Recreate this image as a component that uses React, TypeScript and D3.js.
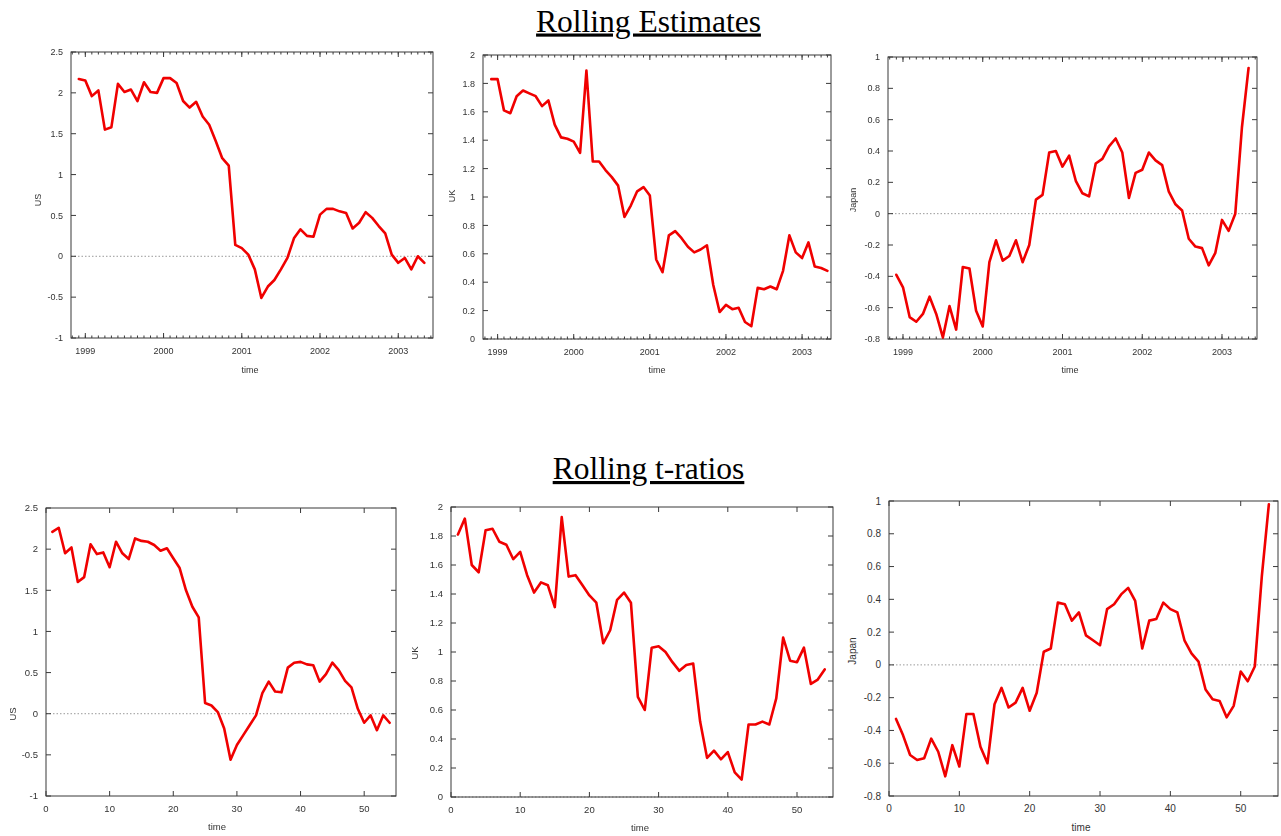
import React from 'react';
import * as d3 from 'd3';

// Rolling coefficient estimates, monthly windows ending Dec 1998 .. May 2003
const usEstimates = [
  2.17, 2.15, 1.96, 2.03, 1.55, 1.58, 2.11, 2.01, 2.04, 1.9,
  2.13, 2.01, 2.0, 2.18, 2.18, 2.12, 1.9, 1.82, 1.89, 1.71,
  1.61, 1.41, 1.2, 1.11, 0.14, 0.1, 0.02, -0.16, -0.51, -0.37,
  -0.29, -0.16, -0.02, 0.22, 0.33, 0.25, 0.24, 0.51, 0.58, 0.58,
  0.55, 0.53, 0.34, 0.41, 0.54, 0.47, 0.37, 0.28, 0.02, -0.08,
  -0.02, -0.16, 0.0, -0.08,
];
const ukEstimates = [
  1.83, 1.83, 1.61, 1.59, 1.71, 1.75, 1.73, 1.71, 1.64, 1.68,
  1.51, 1.42, 1.41, 1.39, 1.31, 1.89, 1.25, 1.25, 1.19, 1.14,
  1.08, 0.86, 0.94, 1.04, 1.07, 1.01, 0.56, 0.47, 0.73, 0.76,
  0.71, 0.65, 0.61, 0.63, 0.66, 0.38, 0.19, 0.24, 0.21, 0.22,
  0.12, 0.09, 0.36, 0.35, 0.37, 0.35, 0.48, 0.73, 0.61, 0.57,
  0.68, 0.51, 0.5, 0.48,
];
const japanEstimates = [
  -0.39, -0.47, -0.66, -0.69, -0.64, -0.53, -0.64, -0.79, -0.59, -0.74,
  -0.34, -0.35, -0.62, -0.72, -0.31, -0.17, -0.3, -0.27, -0.17, -0.31,
  -0.2, 0.09, 0.12, 0.39, 0.4, 0.3, 0.37, 0.21, 0.13, 0.11,
  0.32, 0.35, 0.43, 0.48, 0.39, 0.1, 0.26, 0.28, 0.39, 0.34,
  0.31, 0.14, 0.06, 0.02, -0.16, -0.21, -0.22, -0.33, -0.25, -0.04,
  -0.11, 0.0, 0.55, 0.93,
];

// Rolling t-ratios, indexed by window number 1..54
const usTRatios = [
  2.21, 2.26, 1.95, 2.02, 1.6, 1.66, 2.06, 1.94, 1.96, 1.78,
  2.09, 1.95, 1.88, 2.13, 2.1, 2.09, 2.05, 1.98, 2.01, 1.89,
  1.77, 1.5, 1.3, 1.17, 0.13, 0.1, 0.02, -0.18, -0.56, -0.38,
  -0.26, -0.14, -0.02, 0.25, 0.39, 0.27, 0.26, 0.56, 0.62, 0.63,
  0.6, 0.59, 0.39, 0.48, 0.62, 0.53, 0.4, 0.32, 0.06, -0.11,
  -0.02, -0.2, -0.02, -0.11,
];
const ukTRatios = [
  1.81, 1.92, 1.6, 1.55, 1.84, 1.85, 1.76, 1.74, 1.64, 1.69,
  1.53, 1.41, 1.48, 1.46, 1.31, 1.93, 1.52, 1.53, 1.46, 1.39,
  1.34, 1.06, 1.15, 1.36, 1.41, 1.34, 0.69, 0.6, 1.03, 1.04,
  1.0, 0.93, 0.87, 0.91, 0.92, 0.52, 0.27, 0.32, 0.26, 0.31,
  0.17, 0.12, 0.5, 0.5, 0.52, 0.5, 0.68, 1.1, 0.94, 0.93,
  1.03, 0.78, 0.81, 0.88,
];
const japanTRatios = [
  -0.33, -0.43, -0.55, -0.58, -0.57, -0.45, -0.53, -0.68, -0.49, -0.62,
  -0.3, -0.3, -0.5, -0.6, -0.24, -0.14, -0.26, -0.23, -0.14, -0.28,
  -0.17, 0.08, 0.1, 0.38, 0.37, 0.27, 0.32, 0.18, 0.15, 0.12,
  0.34, 0.37, 0.43, 0.47, 0.39, 0.1, 0.27, 0.28, 0.38, 0.34,
  0.32, 0.15, 0.07, 0.02, -0.15, -0.21, -0.22, -0.32, -0.25, -0.04,
  -0.1, -0.01, 0.54, 0.98,
];

const yearTicks = [1999, 2000, 2001, 2002, 2003];
const periodTicks = [0, 10, 20, 30, 40, 50];
const usYTicks = [-1, -0.5, 0, 0.5, 1, 1.5, 2, 2.5];
const ukYTicks = [0, 0.2, 0.4, 0.6, 0.8, 1, 1.2, 1.4, 1.6, 1.8, 2];
const japanYTicks = [-0.8, -0.6, -0.4, -0.2, 0, 0.2, 0.4, 0.6, 0.8, 1];

const firstMonth = 1998 + 11 / 12; // December 1998
const monthlyDates = usEstimates.map((_, i) => firstMonth + i / 12);
const periods = usTRatios.map((_, i) => i + 1);

type PanelSpec = {
  values: number[];
  xs: number[];
  xDomain: [number, number];
  yDomain: [number, number];
  xTicks: number[];
  yTicks: number[];
  monthly: boolean;
  left: number;
  right: number;
  top: number;
  bottom: number;
  yLabel: string;
  yLabelX: number;
  yLabelY: number;
  timeX: number;
  timeY: number;
  soft: boolean;
  fontSize: number;
};

const panels: PanelSpec[] = [
  {
    values: usEstimates, xs: monthlyDates, xDomain: [1998.817, 2003.444], yDomain: [-1, 2.5],
    xTicks: yearTicks, yTicks: usYTicks, monthly: true,
    left: 71, right: 433, top: 52, bottom: 338,
    yLabel: 'US', yLabelX: 38, yLabelY: 200, timeX: 250, timeY: 373, soft: true, fontSize: 9,
  },
  {
    values: ukEstimates, xs: monthlyDates, xDomain: [1998.808, 2003.38], yDomain: [0, 2],
    xTicks: yearTicks, yTicks: ukYTicks, monthly: true,
    left: 483, right: 831, top: 55, bottom: 339,
    yLabel: 'UK', yLabelX: 452, yLabelY: 196, timeX: 657, timeY: 373, soft: true, fontSize: 9,
  },
  {
    values: japanEstimates, xs: monthlyDates, xDomain: [1998.812, 2003.439], yDomain: [-0.8, 1],
    xTicks: yearTicks, yTicks: japanYTicks, monthly: true,
    left: 888, right: 1257, top: 57, bottom: 339,
    yLabel: 'Japan', yLabelX: 853, yLabelY: 200, timeX: 1070, timeY: 373, soft: true, fontSize: 9,
  },
  {
    values: usTRatios, xs: periods, xDomain: [0, 55], yDomain: [-1, 2.5],
    xTicks: periodTicks, yTicks: usYTicks, monthly: false,
    left: 46, right: 396, top: 508, bottom: 796,
    yLabel: 'US', yLabelX: 13, yLabelY: 714, timeX: 217, timeY: 830, soft: true, fontSize: 9.5,
  },
  {
    values: ukTRatios, xs: periods, xDomain: [0, 55.2], yDomain: [0, 2],
    xTicks: periodTicks, yTicks: ukYTicks, monthly: false,
    left: 451, right: 833, top: 507, bottom: 797,
    yLabel: 'UK', yLabelX: 415, yLabelY: 653, timeX: 640, timeY: 831, soft: true, fontSize: 9.5,
  },
  {
    values: japanTRatios, xs: periods, xDomain: [0, 55.3], yDomain: [-0.8, 1],
    xTicks: periodTicks, yTicks: japanYTicks, monthly: false,
    left: 889, right: 1278, top: 501, bottom: 796,
    yLabel: 'Japan', yLabelX: 852, yLabelY: 651, timeX: 1081, timeY: 831, soft: false, fontSize: 10,
  },
];

const tickFont = '"Liberation Sans", Arial, sans-serif';

function Panel({ p }: { p: PanelSpec }) {
  const x = d3.scaleLinear().domain(p.xDomain).range([p.left, p.right]);
  const y = d3.scaleLinear().domain(p.yDomain).range([p.bottom, p.top]);
  const path = d3
    .line<number>()
    .x((_, i) => x(p.xs[i]))
    .y((d) => y(d))(p.values) ?? '';

  const minor = p.monthly
    ? d3.range(Math.ceil(p.xDomain[0] * 12), Math.floor(p.xDomain[1] * 12) + 1).map((m) => m / 12)
    : [];

  const frame = '#3a3a3a';
  const major = 5;
  const small = 2.5;

  return (
    <g filter={p.soft ? 'url(#soft)' : undefined}>
      {/* zero reference */}
      <line x1={p.left} x2={p.right} y1={y(0)} y2={y(0)} stroke="#9a9a9a" strokeWidth={1} strokeDasharray="1.5,2" />
      {/* minor monthly ticks */}
      {minor.map((m, i) => (
        <g key={'m' + i} stroke={frame} strokeWidth={1}>
          <line x1={x(m)} x2={x(m)} y1={p.bottom} y2={p.bottom - small} />
          <line x1={x(m)} x2={x(m)} y1={p.top} y2={p.top + small} />
        </g>
      ))}
      {/* x ticks */}
      {p.xTicks.map((t) => (
        <g key={'x' + t}>
          <line x1={x(t)} x2={x(t)} y1={p.bottom} y2={p.bottom - major} stroke={frame} />
          <line x1={x(t)} x2={x(t)} y1={p.top} y2={p.top + major} stroke={frame} />
          <text x={x(t)} y={p.bottom + 16} textAnchor="middle" fontFamily={tickFont} fontSize={p.fontSize} fill="#333">
            {String(t)}
          </text>
        </g>
      ))}
      {/* y ticks */}
      {p.yTicks.map((t) => (
        <g key={'y' + t}>
          <line x1={p.left} x2={p.left + major} y1={y(t)} y2={y(t)} stroke={frame} />
          <line x1={p.right} x2={p.right - major} y1={y(t)} y2={y(t)} stroke={frame} />
          <text x={p.left - 8} y={y(t)} dy="0.35em" textAnchor="end" fontFamily={tickFont} fontSize={p.fontSize} fill="#333">
            {String(t)}
          </text>
        </g>
      ))}
      <rect x={p.left} y={p.top} width={p.right - p.left} height={p.bottom - p.top} fill="none" stroke={frame} strokeWidth={1} />
      <path d={path} fill="none" stroke="#f00000" strokeWidth={2.6} strokeLinejoin="round" strokeLinecap="round" />
      <text
        transform={`translate(${p.yLabelX},${p.yLabelY}) rotate(-90)`}
        textAnchor="middle"
        dy="0.35em"
        fontFamily={tickFont}
        fontSize={p.fontSize}
        fill="#333"
      >
        {p.yLabel}
      </text>
      <text x={p.timeX} y={p.timeY} textAnchor="middle" fontFamily={tickFont} fontSize={p.fontSize} fill="#333">
        time
      </text>
    </g>
  );
}

export default function App() {
  return (
    <svg
      width={1281}
      height={836}
      viewBox="0 0 1281 836"
      style={{ position: 'absolute', left: 0, top: 0, background: '#fff' }}
    >
      <defs>
        <filter id="soft" x="-5%" y="-5%" width="110%" height="110%">
          <feGaussianBlur stdDeviation="0.5" />
        </filter>
      </defs>
      <rect width={1281} height={836} fill="#fff" />
      <text
        x={648.5}
        y={31.5}
        textAnchor="middle"
        fontFamily='"Liberation Serif", "Times New Roman", serif'
        fontSize={31.5}
        textDecoration="underline"
        fill="#000"
      >
        Rolling Estimates
      </text>
      <text
        x={648.5}
        y={479}
        textAnchor="middle"
        fontFamily='"Liberation Serif", "Times New Roman", serif'
        fontSize={31.5}
        textDecoration="underline"
        fill="#000"
      >
        Rolling t-ratios
      </text>
      {panels.map((p, i) => (
        <Panel key={i} p={p} />
      ))}
    </svg>
  );
}
